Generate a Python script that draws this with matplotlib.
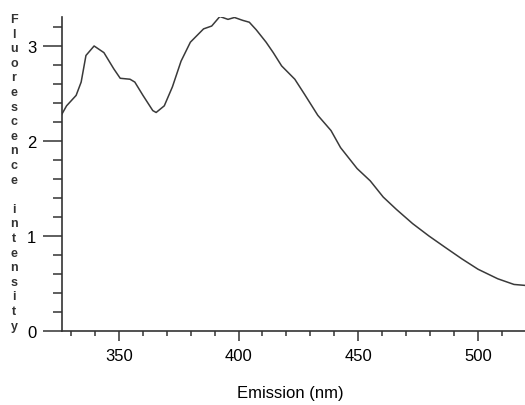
import numpy as np
import matplotlib
matplotlib.use("Agg")
import matplotlib.pyplot as plt
from matplotlib.ticker import MultipleLocator

# Datos
emision_nm = [326.2, 328.2, 332.2, 334.3, 336.3, 339.7, 343.8, 347.9, 350.6, 354.7,
              356.7, 360.1, 364.2, 365.6, 369.0, 372.4, 376.0, 379.9, 385.4, 388.8,
              392.2, 395.6, 398.3, 401.7, 404.5, 407.4, 411.5, 414.5, 418.0, 423.5,
              427.6, 433.1, 438.6, 442.6, 449.5, 455.0, 460.4, 465.9, 472.7, 479.5,
              486.3, 493.2, 500.0, 508.2, 515.0, 519.6]
intensidad = [2.28, 2.37, 2.48, 2.62, 2.90, 3.00, 2.93, 2.76, 2.66, 2.65,
              2.62, 2.48, 2.32, 2.30, 2.37, 2.57, 2.84, 3.04, 3.18, 3.21,
              3.31, 3.28, 3.30, 3.27, 3.25, 3.17, 3.04, 2.93, 2.79, 2.65,
              2.49, 2.27, 2.11, 1.93, 1.71, 1.58, 1.41, 1.28, 1.13, 1.00,
              0.88, 0.76, 0.65, 0.55, 0.49, 0.48]
x_ticks = [350, 400, 450, 500]
y_ticks = [0, 1, 2, 3]
etiqueta_y = "Fluorescence intensity"
etiqueta_x = "Emission (nm)"

fuente = ["Liberation Sans Narrow", "Liberation Sans", "DejaVu Sans"]
plt.rcParams["font.family"] = fuente

fig = plt.figure(figsize=(5.25, 4.06), dpi=100)
ax = fig.add_axes([62 / 525, 1 - 332 / 406, 1 - 62 / 525, (332 - 18) / 406])

ax.plot(emision_nm, intensidad, color="#3a3a3a", linewidth=1.1)

ax.set_xlim(326.3, 519.6)
ax.set_ylim(0, 3.305)

ax.spines["top"].set_visible(False)
ax.spines["right"].set_visible(False)
for s in ["left", "bottom"]:
    ax.spines[s].set_color("#333333")
    ax.spines[s].set_linewidth(1.2)

ax.set_xticks(x_ticks)
ax.set_yticks(y_ticks)
ax.xaxis.set_minor_locator(MultipleLocator(10))
ax.yaxis.set_minor_locator(MultipleLocator(0.2))
ax.tick_params(axis="x", which="major", length=7.5, width=1.1, color="#333333",
               labelsize=12, pad=5)
ax.tick_params(axis="x", which="minor", length=3.6, width=1.1, color="#333333")
ax.tick_params(axis="y", which="major", length=13.5, width=1.1, color="#333333",
               labelsize=12, pad=5)
ax.tick_params(axis="y", which="minor", length=6.5, width=1.1, color="#333333")

# Titulo del eje x como texto de figura para fijar su posicion
fig.text(290 / 525, 1 - 394 / 406, etiqueta_x, ha="center", va="center", fontsize=12)

# Etiqueta vertical letra por letra
paso = 14.6
for i, letra in enumerate(etiqueta_y):
    y_px = 20 + i * paso
    fig.text(14 / 525, 1 - y_px / 406, letra, ha="center", va="center",
             fontsize=9, fontweight="bold", color="#333333", family=fuente)

fig.savefig("out.png", dpi=100)
